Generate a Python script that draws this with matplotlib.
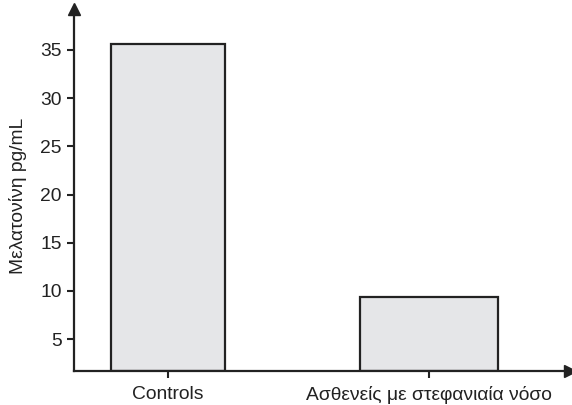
import matplotlib
matplotlib.use("Agg")
import matplotlib.pyplot as plt

plt.rcParams['font.family'] = ['Liberation Sans', 'DejaVu Sans']

categories = ["Controls", "Ασθενείς με στεφανιαία νόσο"]
values = [35.6, 9.4]
bar_widths = [0.434, 0.532]
yticks = [5, 10, 15, 20, 25, 30, 35]
ylabel = "Μελατονίνη pg/mL"

fs = 13.9
fig = plt.figure(figsize=(5.72, 4.05), dpi=100)
ax = fig.add_axes([0.1294, 0.0840, 0.867, 0.8926])

ymin = 1.7
x = list(range(len(categories)))
ax.bar(x, [v - ymin for v in values], bottom=ymin, width=bar_widths,
       color="#e5e6e8", edgecolor="#222222", linewidth=1.6, zorder=2)

ax.set_xlim(-0.36, 1.54)
ax.set_ylim(ymin, 39.2)
ax.set_xticks(x)
ax.set_xticklabels(categories, fontsize=fs)
ax.set_yticks(yticks)
ax.set_yticklabels([str(t) for t in yticks], fontsize=fs)
ax.tick_params(axis='both', direction='out', length=5, width=1.5, color="#222222", labelcolor="#222222")
ax.tick_params(axis='x', pad=5.5)
ax.tick_params(axis='y', pad=4)

for s in ['top', 'right']:
    ax.spines[s].set_visible(False)
for s in ['left', 'bottom']:
    ax.spines[s].set_linewidth(1.6)
    ax.spines[s].set_color("#222222")
    ax.spines[s].set_zorder(3)

ax.plot(1, 0, marker=">", color="#222222", markersize=9, transform=ax.transAxes, clip_on=False, zorder=4)
ax.plot(0, 1, marker="^", color="#222222", markersize=9, transform=ax.transAxes, clip_on=False, zorder=4)

ax.set_ylabel(ylabel, fontsize=fs, color="#222222")
ax.yaxis.set_label_coords(-0.094, 0.485)

fig.savefig("out.png", dpi=100)
